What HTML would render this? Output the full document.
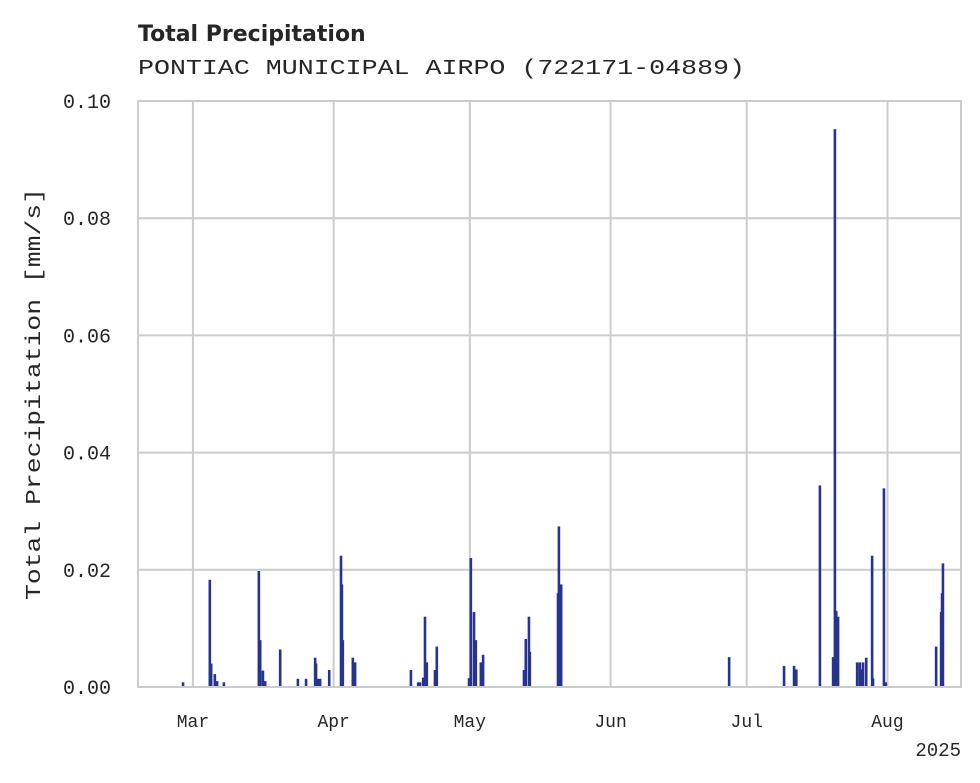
<!DOCTYPE html>
<html><head><meta charset="utf-8"><style>
html,body{margin:0;padding:0;background:#fff;}
svg{display:block;}
text{fill:#262626;}
.mono{font-family:"Liberation Mono","DejaVu Sans Mono",monospace;}
</style></head><body>
<svg id="chart" width="980" height="783" xmlns="http://www.w3.org/2000/svg">
<text x="138" y="41" font-family="DejaVu Sans, sans-serif" font-weight="bold" font-size="22">Total Precipitation</text>
<text class="mono" x="138" y="74" font-size="21" textLength="607" lengthAdjust="spacingAndGlyphs">PONTIAC MUNICIPAL AIRPO (722171-04889)</text>
<g id="grid"></g>
<g id="bars"></g>
<rect x="138" y="101" width="823" height="586" fill="none" stroke="#cccccc" stroke-width="2"/>
<g id="labels"></g>
<text class="mono" transform="translate(40,394) rotate(-90)" text-anchor="middle" font-size="21" textLength="412" lengthAdjust="spacingAndGlyphs">Total Precipitation [mm/s]</text>
<text class="mono" x="961" y="756" text-anchor="end" font-size="19">2025</text>
</svg>
<script>
const yTicks = [0, 0.02, 0.04, 0.06, 0.08, 0.10];
const yTickLabels = ["0.00", "0.02", "0.04", "0.06", "0.08", "0.10"];
const monthDays = [0, 31, 61, 92, 122, 153];
const monthLabels = ["Mar", "Apr", "May", "Jun", "Jul", "Aug"];
// days since Mar 1 2025
const barDays = [-2.2,3.7,4.0,4.8,5.3,6.8,14.5,14.8,15.4,15.9,19.2,23.1,24.9,26.9,27.1,27.5,28.0,30.0,32.6,32.8,33.0,35.2,35.7,48.0,49.6,50.0,50.7,51.1,51.5,53.3,53.7,60.8,61.2,61.9,62.3,63.4,63.9,72.9,73.3,74.0,74.2,80.4,80.6,81.1,118.1,130.2,132.4,132.9,138.1,141.0,141.4,141.7,142.1,146.3,146.9,147.4,147.6,148.3,149.6,149.8,152.2,152.6,163.7,164.8,165.0,165.2];
const barValues = [0.0008,0.0183,0.004,0.0022,0.001,0.0008,0.0198,0.008,0.0028,0.001,0.0064,0.0014,0.0014,0.005,0.004,0.0014,0.0014,0.0029,0.0224,0.0175,0.008,0.005,0.0042,0.0029,0.0008,0.0008,0.0016,0.012,0.0042,0.0029,0.0069,0.0015,0.022,0.0128,0.008,0.0042,0.0055,0.0029,0.0082,0.012,0.006,0.016,0.0274,0.0175,0.0051,0.0036,0.0036,0.003,0.0344,0.0051,0.0952,0.013,0.012,0.0042,0.0042,0.003,0.0042,0.005,0.0224,0.0015,0.0339,0.0008,0.0069,0.0128,0.016,0.0211];

const NS = "http://www.w3.org/2000/svg";
const X0 = 138, X1 = 961, Y0 = 687, Y1 = 101;
const dMin = -12.1, dMax = 169.2;
const xs = d => X0 + (d - dMin) / (dMax - dMin) * (X1 - X0);
const ys = v => Y0 - v / 0.10 * (Y0 - Y1);
function mk(tag, attrs, parent) {
  const e = document.createElementNS(NS, tag);
  for (const k in attrs) e.setAttribute(k, attrs[k]);
  parent.appendChild(e);
  return e;
}
const grid = document.getElementById("grid");
const labels = document.getElementById("labels");
const bars = document.getElementById("bars");
yTicks.forEach((t, i) => {
  const l = mk("line", {x1: X0, x2: X1, y1: ys(t), y2: ys(t), stroke: "#cccccc", "stroke-width": 2}, grid);
  
  
  const tx = mk("text", {x: 111, y: ys(t) + 7, "text-anchor": "end", "font-size": 20, class: "mono"}, labels);
  tx.textContent = yTickLabels[i];
  
  
});
monthDays.forEach((d, i) => {
  const l = mk("line", {x1: xs(d), x2: xs(d), y1: Y1, y2: Y0, stroke: "#cccccc", "stroke-width": 2}, grid);
  
  
  const tx = mk("text", {x: xs(d), y: 727, "text-anchor": "middle", "font-size": 18, class: "mono"}, labels);
  tx.textContent = monthLabels[i];
  
  
});
barDays.forEach((d, i) => {
  const x = xs(d), y = ys(barValues[i]);
  const r = mk("rect", {x: x - 1.2, y: y, width: 2.6, height: Y0 - y, fill: "#27348f"}, bars);
  
  
});
</script>
</body></html>
